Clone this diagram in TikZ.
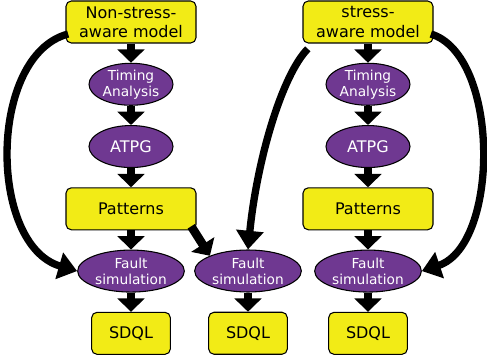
\documentclass[tikz,border=0pt]{standalone}
\usepackage{fontspec}
\setmainfont{DejaVu Sans}
\usetikzlibrary{arrows.meta,positioning,shapes.geometric}
\definecolor{boxyellow}{RGB}{242,235,22}
\definecolor{procpurple}{RGB}{111,56,145}

\begin{document}
\begin{tikzpicture}[
  x=0.75pt, y=-0.75pt, node distance=14.4pt,
  every node/.style={font=\fontsize{12}{14.4}\selectfont},
  mbox/.style={draw, line width=0.8pt, rounded corners=4pt, fill=boxyellow, align=center,
              minimum width=97.5pt, minimum height=31.5pt, inner sep=0pt},
  rbox/.style={mbox, minimum width=59pt},
  proc/.style={ellipse, draw, line width=0.8pt, fill=procpurple, text=white, align=center,
              minimum width=63pt, minimum height=31.5pt, inner sep=0pt},
  fsim/.style={proc, minimum width=80pt},
  small/.style={font=\fontsize{10.3}{12}\selectfont},
  fat/.style={line width=6.5pt, -{Triangle[length=10pt, width=20pt]}},
  curv/.style={line width=5.5pt, -{Triangle[length=14pt, width=20pt]}},
]
\useasboundingbox (0,0) rectangle (487,360);
% non-stress-aware flow
\node[mbox] (nsm) at (131,22) {Non-stress-\\aware model};
\node[proc, small, below=of nsm] (nta) {Timing\\Analysis};
\node[proc, below=of nta] (natpg) {ATPG};
\node[mbox, below=of natpg] (npat) {Patterns};
\node[fsim, small, below=of npat] (nfs) {Fault\\simulation};
\node[rbox, below=of nfs] (nsdql) {SDQL};
% stress-aware flow
\node[mbox] (sm) at (368,22) {stress-\\aware model};
\node[proc, small, below=of sm] (sta) {Timing\\Analysis};
\node[proc, below=of sta] (satpg) {ATPG};
\node[mbox, below=of satpg] (spat) {Patterns};
\node[fsim, small, below=of spat] (sfs) {Fault\\simulation};
\node[rbox, below=of sfs] (ssdql) {SDQL};
% mixed flow
\node[fsim, small] (mfs) at (248,271) {Fault\\simulation};
\node[rbox, below=of mfs] (msdql) {SDQL};

\foreach \a/\b in {nsm/nta, nta/natpg, natpg/npat, npat/nfs, nfs/nsdql,
                   sm/sta, sta/satpg, satpg/spat, spat/sfs, sfs/ssdql, mfs/msdql}
  \draw[fat] (\a) -- (\b);
\draw[fat] ([xshift=-4pt,yshift=3pt]npat.south east) -- (mfs.north west);

\draw[curv] ([xshift=2pt,yshift=-9pt]nsm.west) .. controls (-12,55) and (-12,245) .. (nfs.west);
\draw[curv] ([xshift=4pt,yshift=-4pt]sm.south west) .. controls (282,75) and (257,160) .. (mfs.north);
\draw[curv] ([xshift=-2pt,yshift=-9pt]sm.east) .. controls (500,55) and (500,245) .. (sfs.east);
\end{tikzpicture}
\end{document}
